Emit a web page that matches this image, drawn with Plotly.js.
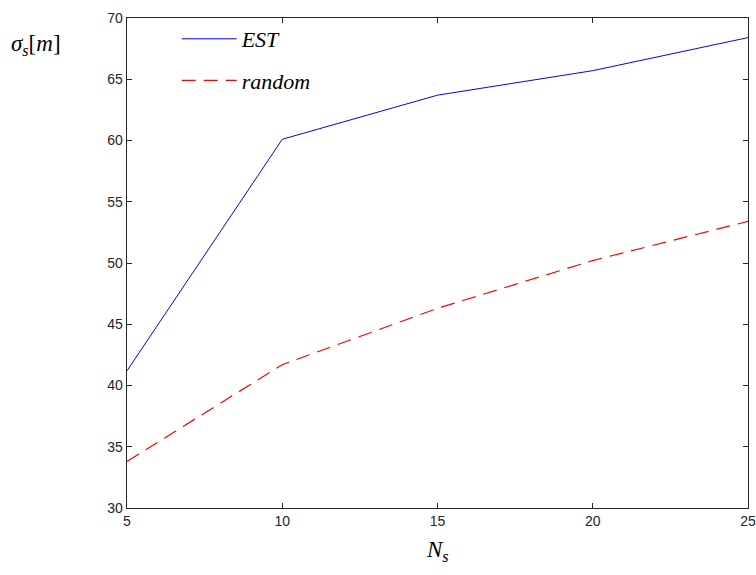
<!DOCTYPE html>
<html>
<head>
<meta charset="utf-8">
<script src="https://cdn.plot.ly/plotly-3.0.1.min.js"></script>
<style>html,body{margin:0;padding:0;background:#fff;}#chart{width:756px;height:575px;}</style>
</head>
<body>
<div id="chart"></div>
<script>
const Ns = [5, 10, 15, 20, 25];
const estValues = [41.2, 60.1, 63.7, 65.7, 68.4];
const randomValues = [33.8, 41.7, 46.3, 50.2, 53.4];
const xTicks = [5, 10, 15, 20, 25];
const yTicks = [30, 35, 40, 45, 50, 55, 60, 65, 70];

const traces = [
  {x: Ns, y: estValues, type: 'scatter', mode: 'lines', name: '<i>EST</i>',
   line: {color: '#0000ff', width: 1}, legendgroup: 'a'},
  {x: Ns, y: randomValues, type: 'scatter', mode: 'lines', name: '<i>random</i>',
   line: {color: '#ff0000', width: 1.2, dash: '14px,8px'}, legendgroup: 'b'}
];

const axisCommon = {
  showline: true, linecolor: '#262626', linewidth: 1.3, mirror: 'ticks',
  ticks: 'inside', ticklen: 5, tickcolor: '#262626', showgrid: false, zeroline: false,
  tickfont: {family: 'Liberation Sans, Arial, sans-serif', size: 14, color: '#262626'}
};

const layout = {
  width: 756, height: 575,
  margin: {l: 127, r: 8, t: 18, b: 67},
  paper_bgcolor: '#fff', plot_bgcolor: '#fff',
  xaxis: Object.assign({}, axisCommon, {range: [5, 25], tickvals: xTicks, ticktext: xTicks.map(String)}),
  yaxis: Object.assign({}, axisCommon, {range: [30, 70], tickvals: yTicks, ticktext: yTicks.map(String)}),
  showlegend: true,
  legend: {x: 0.08, y: 1.0, xanchor: 'left', yanchor: 'top', bgcolor: 'rgba(0,0,0,0)',
    font: {family: 'Liberation Serif, DejaVu Serif, serif', size: 22, color: '#000'},
    itemwidth: 55, tracegroupgap: 10},
  annotations: [
    {xref: 'paper', yref: 'paper', x: -0.19, y: 0.945, xanchor: 'left', yanchor: 'middle', showarrow: false,
     text: '<i>σ<sub>s</sub></i>[<i>m</i>]', font: {family: 'Liberation Serif, DejaVu Serif, serif', size: 23, color: '#000'}},
    {xref: 'paper', yref: 'paper', x: 0.5, y: -0.055, xanchor: 'center', yanchor: 'top', showarrow: false,
     text: '<i>N<sub>s</sub></i>', font: {family: 'Liberation Serif, DejaVu Serif, serif', size: 23, color: '#000'}}
  ]
};

Plotly.newPlot('chart', traces, layout, {displayModeBar: false, staticPlot: true});
</script>
</body>
</html>
